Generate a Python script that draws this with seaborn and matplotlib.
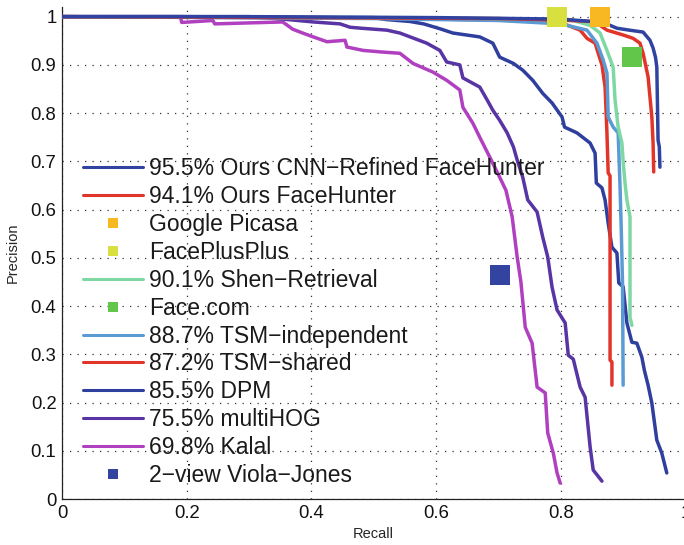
import numpy as np
import pandas as pd
import matplotlib
matplotlib.use("Agg")
import matplotlib.pyplot as plt
from matplotlib.lines import Line2D
from matplotlib.ticker import MultipleLocator, FuncFormatter
import seaborn as sns

sns.set_style("white")
plt.rcParams['font.family'] = ['Liberation Sans', 'DejaVu Sans']

# ---------------- data ----------------
cnn_r = [0, 0.30, 0.60, 0.80, 0.85, 0.879, 0.89, 0.91, 0.932, 0.943, 0.948, 0.952, 0.954, 0.955, 0.956, 0.958, 0.959]
cnn_p = [1, 1, 0.998, 0.995, 0.99, 0.982, 0.976, 0.972, 0.968, 0.951, 0.935, 0.915, 0.895, 0.82, 0.744, 0.73, 0.688]

fh_r = [0, 0.4, 0.7, 0.80, 0.847, 0.863, 0.874, 0.90, 0.916, 0.927, 0.932, 0.94, 0.946, 0.948, 0.949]
fh_p = [1, 0.998, 0.996, 0.993, 0.99, 0.982, 0.972, 0.962, 0.955, 0.945, 0.924, 0.875, 0.792, 0.738, 0.678]

shen_r = [0, 0.5, 0.7, 0.78, 0.82, 0.847, 0.863, 0.874, 0.884, 0.887, 0.892, 0.898, 0.900, 0.903, 0.906, 0.911, 0.911, 0.914]
shen_p = [1, 0.998, 0.996, 0.994, 0.992, 0.982, 0.966, 0.93, 0.895, 0.827, 0.771, 0.738, 0.70, 0.655, 0.62, 0.585, 0.377, 0.36]

tsmi_r = [0, 0.5, 0.7, 0.8, 0.842, 0.858, 0.868, 0.874, 0.876, 0.884, 0.892, 0.895, 0.897, 0.899, 0.900]
tsmi_p = [1, 0.996, 0.992, 0.985, 0.972, 0.945, 0.91, 0.883, 0.792, 0.771, 0.759, 0.647, 0.557, 0.447, 0.236]

tsms_r = [0, 0.5, 0.7, 0.78, 0.803, 0.831, 0.842, 0.855, 0.86, 0.866, 0.871, 0.874, 0.876, 0.879, 0.879, 0.882, 0.882]
tsms_p = [1, 0.997, 0.993, 0.99, 0.986, 0.972, 0.955, 0.945, 0.924, 0.9, 0.854, 0.759, 0.676, 0.67, 0.288, 0.284, 0.236]

dpm_r = [0, 0.2, 0.35, 0.45, 0.50, 0.52, 0.558, 0.58, 0.606, 0.627, 0.67, 0.691, 0.702, 0.724, 0.739, 0.755,
         0.771, 0.786, 0.802, 0.806, 0.826, 0.847, 0.855, 0.857, 0.866, 0.871, 0.876, 0.882, 0.89, 0.893, 0.9,
         0.906, 0.914, 0.922, 0.93, 0.934, 0.94, 0.946, 0.954, 0.962, 0.97]
dpm_p = [1, 1, 0.999, 0.998, 0.998, 0.994, 0.99, 0.985, 0.975, 0.966, 0.958, 0.945, 0.916, 0.903, 0.889, 0.868,
         0.841, 0.821, 0.792, 0.771, 0.759, 0.738, 0.717, 0.655, 0.645, 0.62, 0.572, 0.522, 0.51, 0.448, 0.44,
         0.365, 0.325, 0.323, 0.294, 0.267, 0.236, 0.199, 0.122, 0.095, 0.054]

hog_r = [0, 0.2, 0.30, 0.354, 0.403, 0.446, 0.462, 0.48, 0.521, 0.542, 0.585, 0.606, 0.617, 0.638, 0.643,
         0.67, 0.682, 0.691, 0.702, 0.714, 0.724, 0.73, 0.739, 0.747, 0.762, 0.771, 0.779, 0.786, 0.794,
         0.807, 0.812, 0.82, 0.831, 0.839, 0.847, 0.852, 0.866]
hog_p = [1, 1, 1, 0.995, 0.989, 0.985, 0.978, 0.976, 0.972, 0.966, 0.945, 0.93, 0.906, 0.9, 0.873,
         0.854, 0.827, 0.806, 0.785, 0.759, 0.73, 0.703, 0.667, 0.62, 0.595, 0.543, 0.502, 0.439, 0.392,
         0.365, 0.298, 0.29, 0.232, 0.211, 0.108, 0.06, 0.037]

kalal_r = [0, 0.190, 0.192, 0.242, 0.245, 0.354, 0.37, 0.386, 0.403, 0.425, 0.454, 0.457, 0.483, 0.51,
           0.542, 0.563, 0.595, 0.617, 0.638, 0.643, 0.659, 0.67, 0.686, 0.702, 0.712, 0.722, 0.73, 0.736,
           0.743, 0.754, 0.762, 0.775, 0.779, 0.788, 0.794, 0.799]
kalal_p = [1, 1, 0.988, 0.992, 0.985, 0.989, 0.974, 0.966, 0.958, 0.948, 0.951, 0.937, 0.93, 0.927,
           0.924, 0.903, 0.885, 0.868, 0.848, 0.812, 0.779, 0.75, 0.709, 0.667, 0.64, 0.585, 0.502, 0.45,
           0.356, 0.323, 0.232, 0.22, 0.137, 0.095, 0.054, 0.033]

# single operating points
picasa_r, picasa_p = [0.863], [1.0]
fpp_r, fpp_p = [0.794], [1.0]
facecom_r, facecom_p = [0.914], [0.916]
vj_r, vj_p = [0.703], [0.464]

labels = [
    "95.5% Ours CNN\u2212Refined FaceHunter",
    "94.1% Ours FaceHunter",
    "Google Picasa",
    "FacePlusPlus",
    "90.1% Shen\u2212Retrieval",
    "Face.com",
    "88.7% TSM\u2212independent",
    "87.2% TSM\u2212shared",
    "85.5% DPM",
    "75.5% multiHOG",
    "69.8% Kalal",
    "2\u2212view Viola\u2212Jones",
]

x_ticks = [0, 0.2, 0.4, 0.6, 0.8, 1.0]
y_ticks = [0, 0.1, 0.2, 0.3, 0.4, 0.5, 0.6, 0.7, 0.8, 0.9, 1.0]

# ---------------- styling ----------------
c_cnn = "#3043A0"
c_red = "#E2352A"
c_picasa = "#F8B822"
c_fpp = "#D8E040"
c_shen = "#7ED8A4"
c_facecom = "#62C64A"
c_tsmi = "#5A9BD4"
c_dpm = "#2F3F9E"
c_hog = "#5834A4"
c_kalal = "#B040C0"
c_vj = "#3344A0"

series = [
    ("line", labels[0], cnn_r, cnn_p, c_cnn),
    ("line", labels[1], fh_r, fh_p, c_red),
    ("pt", labels[2], picasa_r, picasa_p, c_picasa),
    ("pt", labels[3], fpp_r, fpp_p, c_fpp),
    ("line", labels[4], shen_r, shen_p, c_shen),
    ("pt", labels[5], facecom_r, facecom_p, c_facecom),
    ("line", labels[6], tsmi_r, tsmi_p, c_tsmi),
    ("line", labels[7], tsms_r, tsms_p, c_red),
    ("line", labels[8], dpm_r, dpm_p, c_dpm),
    ("line", labels[9], hog_r, hog_p, c_hog),
    ("line", labels[10], kalal_r, kalal_p, c_kalal),
    ("pt", labels[11], vj_r, vj_p, c_vj),
]

W, H = 684, 545
fig = plt.figure(figsize=(W / 100, H / 100), dpi=100)
ax = fig.add_axes([62 / W, (H - 499) / H, 623.5 / W, 492 / H])

line_z = {labels[0]: 5, labels[1]: 4.5}
handles = []
for kind, lab, xs, ys, col in reversed(series):
    df = pd.DataFrame({"Recall": xs, "Precision": ys})
    if kind == "line":
        sns.lineplot(data=df, x="Recall", y="Precision", ax=ax, color=col, lw=2.5,
                     sort=False, estimator=None, legend=False, zorder=line_z.get(lab, 3))
    else:
        sns.scatterplot(data=df, x="Recall", y="Precision", ax=ax, color=col, marker="s",
                        s=220, linewidth=0, legend=False, zorder=6, clip_on=False)

for kind, lab, xs, ys, col in series:
    if kind == "line":
        handles.append(Line2D([], [], color=col, lw=2.2, label=lab))
    else:
        handles.append(Line2D([], [], color=col, lw=0, marker="s", markersize=7.5,
                              markeredgewidth=0, label=lab))

ax.set_xlim(0, 1.0)
ax.set_ylim(0, 1.02)
ax.set_xticks(x_ticks)
ax.set_yticks(y_ticks)
fmt = FuncFormatter(lambda v, p: f"{v:g}")
ax.xaxis.set_major_formatter(fmt)
ax.yaxis.set_major_formatter(fmt)
ax.xaxis.set_minor_locator(MultipleLocator(0.02))
ax.yaxis.set_minor_locator(MultipleLocator(0.1 / 7))
ax.tick_params(axis="both", which="major", direction="in", length=5, width=0.8,
               labelsize=13.3, colors="#222222", pad=4)
ax.tick_params(axis="both", which="minor", direction="in", length=2.5, width=0.6, colors="#222222")
ax.tick_params(axis="x", labelcolor="#111111")
ax.tick_params(axis="y", labelcolor="#111111")

ax.grid(True, which="major", linestyle=(0, (1, 5)), color="#333333", lw=0.9)
ax.set_axisbelow(True)
for s in ["top", "right"]:
    ax.spines[s].set_visible(False)
for s in ["left", "bottom"]:
    ax.spines[s].set_color("#222222")
    ax.spines[s].set_linewidth(0.9)

ax.set_xlabel("Recall", fontsize=10.5, labelpad=4)
ax.set_ylabel("Precision", fontsize=10.5, labelpad=8)

leg = ax.legend(handles=handles, loc="upper left",
                bbox_to_anchor=(83 / W, (H - 157) / H), bbox_transform=fig.transFigure,
                frameon=False, fontsize=16.5, handlelength=2.6, handletextpad=0.28,
                labelspacing=0.215, borderpad=0, borderaxespad=0)
for t in leg.get_texts():
    t.set_color("#1a1a1a")

fig.savefig("out.png", dpi=100)
